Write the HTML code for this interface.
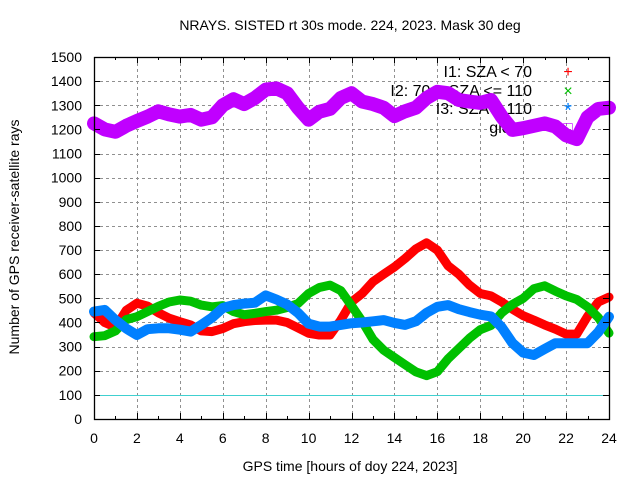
<!DOCTYPE html>
<html><head><meta charset="utf-8"><style>
body{margin:0;background:#fff;}
svg text{font-family:"Liberation Sans",sans-serif;font-size:14px;fill:#000;}
</style></head><body>
<svg id="chart" width="640" height="480" xmlns="http://www.w3.org/2000/svg">
<rect width="640" height="480" fill="#fff"/>
<g id="grid"></g>
<g id="series"></g>
<g id="axes"></g>
</svg>
<script>
const hours = [];
for (let i = 0; i <= 48; i++) hours.push(i * 0.5);
const globalVals = [1225,1200,1190,1215,1235,1253,1275,1262,1253,1260,1240,1250,1300,1325,1305,1330,1365,1370,1350,1290,1240,1273,1285,1330,1350,1315,1305,1290,1255,1275,1290,1330,1356,1350,1322,1315,1310,1322,1253,1198,1205,1215,1225,1212,1175,1160,1250,1285,1290];
const i1Vals = [440,400,380,450,480,468,440,418,403,390,365,362,375,395,403,408,410,410,400,378,355,348,348,410,485,520,569,600,630,665,705,730,700,635,600,555,520,510,485,455,428,410,390,372,352,352,425,485,505];
const i2Vals = [341,345,365,412,424,445,467,485,493,488,472,465,470,445,432,438,445,451,462,478,520,545,555,532,470,405,330,285,255,225,195,180,196,250,292,335,370,388,440,475,500,540,552,530,510,495,465,420,356];
const i3Vals = [445,452,410,375,348,372,376,376,370,362,390,420,460,472,478,482,512,495,475,440,395,383,383,390,397,400,405,410,398,390,405,440,465,472,455,443,432,425,380,315,275,265,290,314,314,314,314,360,424];
const yTicks = [0,100,200,300,400,500,600,700,800,900,1000,1100,1200,1300,1400,1500];
const xTicks = [0,2,4,6,8,10,12,14,16,18,20,22,24];

const L=94,R=609,T=57,B=419;
const xs = h => L + (h/24)*(R-L);
const ys = v => B - (v/1500)*(B-T);
const NS="http://www.w3.org/2000/svg";
function mk(tag, parent, attrs){const e=document.createElementNS(NS,tag);for(const k in attrs)e.setAttribute(k,attrs[k]);parent.appendChild(e);return e;}
const grid=document.getElementById('grid'), ser=document.getElementById('series'), ax=document.getElementById('axes');

yTicks.forEach(v=>{ if(v>0&&v<1500){
  const y=Math.round(ys(v))+0.5;
  const g=mk('line',grid,{x1:L,x2:R,y1:y,y2:y,stroke:'#909090','stroke-dasharray':'3,3','stroke-width':1});
  
  
}});
xTicks.forEach(h=>{ if(h>0&&h<24){
  const x=Math.round(xs(h))+0.5;
  const g=mk('line',grid,{x1:x,x2:x,y1:T,y2:B,stroke:'#909090','stroke-dasharray':'3,3','stroke-width':1});
  
  
}});
const ry=Math.round(ys(100))+0.5;
const ref=mk('line',grid,{x1:L,x2:R,y1:ry,y2:ry,stroke:'#40d0d0','stroke-width':1});



function band(vals,color,w,name){
  const pts=hours.map((h,i)=>xs(h).toFixed(1)+','+ys(vals[i]).toFixed(1)).join(' ');
  const p=mk('polyline',ser,{points:pts,fill:'none',stroke:color,'stroke-width':w,'stroke-linejoin':'round','stroke-linecap':'round'});
  
  
}
band(i1Vals,'#ff0000',9,'series-i1-sza-lt-70');
band(i2Vals,'#00c000',9,'series-i2-sza-70-110');
band(i3Vals,'#0080ff',10,'series-i3-sza-gt-110');

// legend
const leg=[['I1: SZA < 70','#ff0000','+',71],['I2: 70 < SZA <= 110','#00c000','×',90],['I3: SZA > 110','#0080ff','*',108],['global','#c000ff','□',127]];
leg.forEach(([t,c,m,y])=>{
  const tx=mk('text',ser,{x:532,y:y+6,'text-anchor':'end',style:'font-size:16px'});tx.textContent=t;
  
  
  const mt=mk('text',ser,{x:568,y:y+(m==='*'?9:6),'text-anchor':'middle',style:'fill:'+c+';font-size:'+(m==='*'?'20px':'16px')});mt.textContent=m;
  
  
});
band(globalVals,'#c000ff',14,'series-global');

// frame & ticks
const fr=mk('rect',ax,{x:L+0.5,y:T+0.5,width:R-L,height:B-T,fill:'none',stroke:'#000','stroke-width':1.3});


yTicks.forEach(v=>{
  const y=Math.round(ys(v))+0.5;
  mk('line',ax,{x1:L,x2:L+6,y1:y,y2:y,stroke:'#000'});
  mk('line',ax,{x1:R-6,x2:R,y1:y,y2:y,stroke:'#000'});
  const t=mk('text',ax,{x:82,y:ys(v)+5,'text-anchor':'end'});t.textContent=v;
  
  
});
for(let h=0;h<=24;h++){
  const len=h%2===0?6:3;
  const x=Math.round(xs(h))+0.5;
  mk('line',ax,{x1:x,x2:x,y1:B,y2:B-len,stroke:'#000'});
  mk('line',ax,{x1:x,x2:x,y1:T,y2:T+len,stroke:'#000'});
}
xTicks.forEach(h=>{
  const t=mk('text',ax,{x:xs(h),y:443,'text-anchor':'middle'});t.textContent=h;
  
  
});
</script>
<div style="position:absolute;left:0;top:0;width:640px;height:480px;pointer-events:none;font-family:'Liberation Sans',sans-serif;font-size:14px;">
<div style="position:absolute;left:0;width:700px;top:17px;text-align:center;">NRAYS. SISTED rt 30s mode. 224, 2023. Mask 30 deg</div>
<div style="position:absolute;left:0;width:700px;top:458px;text-align:center;">GPS time [hours of doy 224, 2023]</div>
<div style="position:absolute;left:-136px;top:229px;width:300px;text-align:center;transform:rotate(-90deg);">Number of GPS receiver-satellite rays</div>
</div>
</body></html>
